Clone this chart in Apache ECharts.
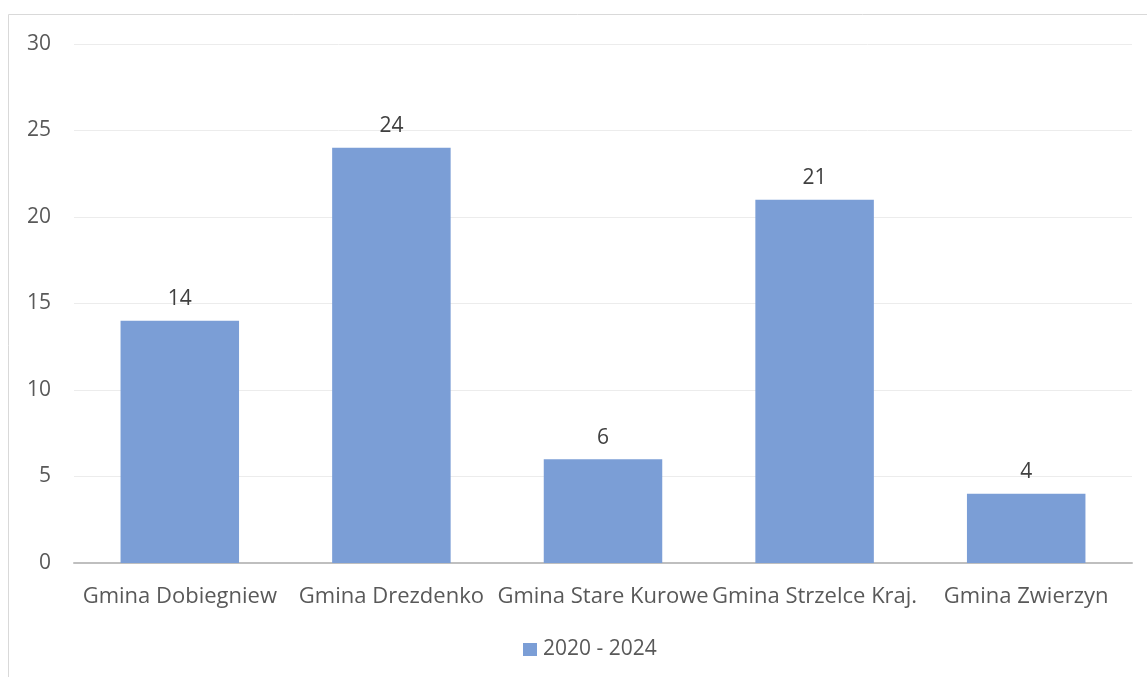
<!DOCTYPE html>
<html><head><meta charset="utf-8">
<script src="https://cdn.jsdelivr.net/npm/echarts@6/dist/echarts.min.js"></script>
<style>html,body{margin:0;padding:0;background:#fff}#c{width:1147px;height:677px}</style>
</head><body><div id="c"></div>
<script>
const categories = ['Gmina Dobiegniew','Gmina Drezdenko','Gmina Stare Kurowe','Gmina Strzelce Kraj.','Gmina Zwierzyn'];
const values = [14, 24, 6, 21, 4];
const seriesName = '2020 - 2024';
const chart = echarts.init(document.getElementById('c'));
const font = '"Open Sans", sans-serif';
chart.setOption({
  animation: false,
  graphic: [
    {type:'line', shape:{x1:8.5,y1:14.5,x2:1147,y2:14.5}, style:{stroke:'#d9d9d9',lineWidth:1}},
    {type:'line', shape:{x1:8.5,y1:14.5,x2:8.5,y2:677}, style:{stroke:'#d9d9d9',lineWidth:1}}
  ],
  grid: {left:74, right:15, top:44, bottom:114, containLabel:false},
  legend: {
    top: 634, left: 518, itemWidth: 14, itemHeight: 13, itemGap: 5,
    icon: 'rect',
    textStyle: {fontFamily: font, fontSize: 21, color: '#595959', padding:[0,0,0,1]},
    data: [seriesName]
  },
  xAxis: {
    type: 'category', data: categories,
    axisLine: {lineStyle:{color:'#bfbfbf', width:2}},
    axisTick: {show:false},
    axisLabel: {fontFamily: font, fontSize: 22, color: '#595959', margin: 23, interval: 0}
  },
  yAxis: {
    type: 'value', min: 0, max: 30, interval: 5,
    axisLine: {show:false}, axisTick: {show:false},
    splitLine: {lineStyle:{color:'#ececec', width:1}},
    axisLabel: {fontFamily: font, fontSize: 21, color: '#595959', margin: 23, align: 'right'}
  },
  series: [{
    name: seriesName, type: 'bar', data: values, barWidth: '56%',
    itemStyle: {color: '#7b9ed6'},
    label: {show: true, position: 'top', distance: 11, fontFamily: font, fontSize: 21, color: '#404040'}
  }]
});
</script></body></html>
